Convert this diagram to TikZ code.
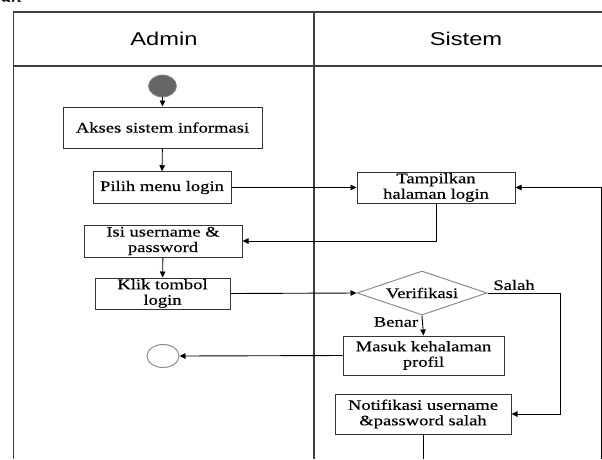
\documentclass[tikz,border=0pt]{standalone}
\usepackage{fontspec}
\setmainfont{Liberation Serif}[FakeStretch=1.28, FakeBold=0.4]
\newfontfamily\headfont{Liberation Sans}[FakeStretch=1.28]
\usetikzlibrary{arrows.meta,shapes.geometric}

\definecolor{lanegray}{HTML}{404040}
\definecolor{boxline}{HTML}{333333}
\definecolor{diagray}{HTML}{8C8C8C}
\definecolor{startfill}{HTML}{666666}

\tikzset{
  lane/.style={draw=lanegray, line width=1.1pt},
  act/.style={draw=boxline, line width=1pt, rectangle, inner sep=1pt,
    align=center, font=\fontsize{14.5}{15.5}\selectfont},
  decide/.style={draw=diagray, line width=1pt, diamond, inner sep=0pt,
    aspect=2.95, font=\fontsize{14.5}{15.5}\selectfont},
  flow/.style={draw=black, line width=0.9pt,
    -{Triangle[length=6pt,width=5.5pt]}},
  plain/.style={draw=black, line width=0.9pt},
  guard/.style={font=\fontsize{14.5}{15.5}\selectfont},
  head/.style={font=\headfont\fontsize{18.5}{20}\selectfont}
}

\begin{document}
\begin{tikzpicture}[x=1pt, y=-1pt]
  \useasboundingbox (0,0) rectangle (602,459);
  \clip (0,0) rectangle (602,459);

  % caption fragment above the swimlanes
  \node[anchor=base west, inner sep=0pt, font=\itshape\fontsize{16}{18}\selectfont] (cap) at (1,1.5) {an};

  % swimlane frame
  \draw[lane] (602,12) -- (13.5,12) -- (13.5,459);
  \draw[lane] (13.5,66) -- (602,66);
  \draw[lane] (314,12) -- (314,459);
  \node[head] (hadmin) at (164,39) {Admin};
  \node[head] (hsistem) at (466,39) {Sistem};

  % activities
  \node[draw=diagray, fill=startfill, line width=0.8pt, ellipse,
        minimum width=28pt, minimum height=22pt, inner sep=0pt] (start) at (162.5,86) {};
  \node[act, minimum width=199pt, minimum height=41pt] (akses) at (162.5,127.5) {Akses sistem informasi};
  \node[act, minimum width=138pt, minimum height=31.5pt] (pilih) at (162,187.5) {Pilih menu login};
  \node[act, minimum width=158pt, minimum height=31pt] (tampil) at (436,187.5) {Tampilkan\\halaman login};
  \node[act, minimum width=158pt, minimum height=32pt] (isi) at (163,241) {Isi username \&\\password};
  \node[act, minimum width=135pt, minimum height=31pt] (klik) at (162.5,293.5) {Klik tombol\\login};
  \node[decide, minimum width=130pt, minimum height=44pt] (verif) at (422,293) {Verifikasi};
  \node[act, minimum width=161pt, minimum height=39pt] (masuk) at (423.5,355.5) {Masuk kehalaman\\profil};
  \node[act, minimum width=176pt, minimum height=40pt] (notif) at (423,414) {Notifikasi username\\\&password salah};
  \node[draw=diagray, fill=white, line width=1pt, ellipse,
        minimum width=32pt, minimum height=23pt, inner sep=0pt] (finish) at (163,356) {};

  % free ends and bends
  \coordinate (salahturn) at (560,293);
  \coordinate (notifend) at (423,459);
  \coordinate (loopend) at (601,459);

  % connectors
  \draw[flow] (start) -- (akses);
  \draw[flow] (akses) -- (pilih);
  \draw[flow] (pilih) -- (tampil);
  \draw[flow] (tampil.south) |- (isi.east);
  \draw[flow] (isi) -- (klik);
  \draw[flow] (klik.east) -- (verif.west);
  \draw[flow] (verif.south) -- (masuk.north);
  \draw[flow] (masuk.west) -- (finish.east);
  \draw[flow] (verif.east) -- (salahturn) |- (notif.east);
  \draw[plain] (notif.south) -- (notifend);
  \draw[flow] (loopend) |- (tampil.east);

  % guard labels
  \node[guard] (salah) at (514,285) {Salah};
  \node[guard] (benar) at (396,322) {Benar};
\end{tikzpicture}
\end{document}
